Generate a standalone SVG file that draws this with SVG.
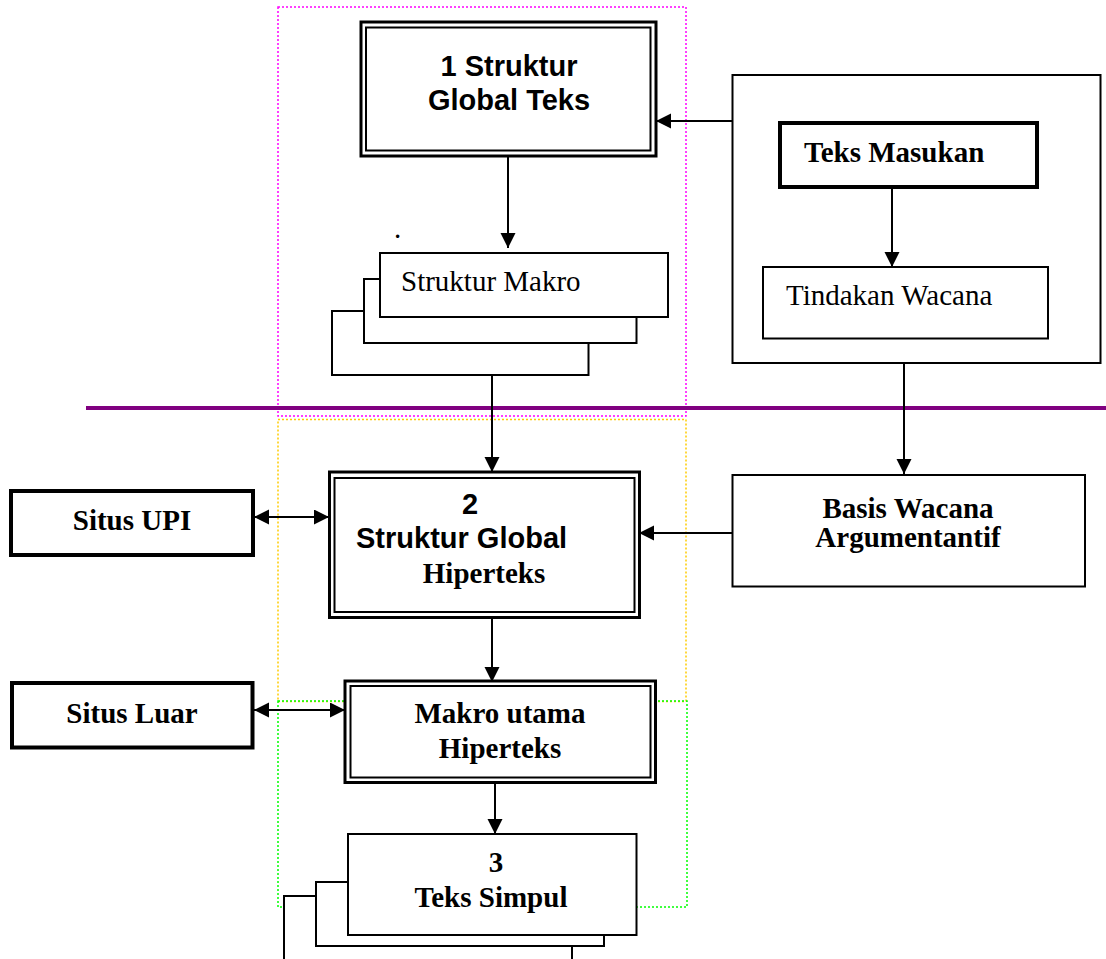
<svg xmlns="http://www.w3.org/2000/svg" width="1106" height="959" viewBox="0 0 1106 959">
<style>
.bx{fill:#fff;stroke:#000;stroke-width:2}
.thk{fill:#fff;stroke:#000;stroke-width:4}
.dbo{fill:#fff;stroke:#000;stroke-width:3}
.dbi{fill:none;stroke:#000;stroke-width:2}
.con{stroke:#000;stroke-width:2;fill:none}
.dot{fill:none;stroke-width:1.5;stroke-dasharray:2 2}
.ab{font-family:"Liberation Sans",Arial,sans-serif;font-weight:bold;font-size:29px;fill:#000}
.tb{font-family:"Liberation Serif","Times New Roman",serif;font-weight:bold;font-size:29px;fill:#000}
.tr{font-family:"Liberation Serif","Times New Roman",serif;font-size:29px;fill:#000}
</style>
<defs>
<marker id="ah" markerUnits="userSpaceOnUse" markerWidth="16" markerHeight="16" viewBox="0 0 16 16" refX="15" refY="7.5" orient="auto-start-reverse">
<path d="M0,0 L15,7.5 L0,15 Z" fill="#000"/>
</marker>
</defs>
<rect width="1106" height="959" fill="#fff"/>

<g id="regions">
<rect class="dot" x="278" y="7" width="408" height="409" stroke="#FF00FF"/>
<rect class="dot" x="278" y="419.5" width="408" height="282" stroke="#FFCC00"/>
<rect class="dot" x="278" y="701" width="409" height="206" stroke="#00FF00"/>
<line x1="86" y1="408" x2="1106" y2="408" stroke="#800080" stroke-width="4"/>
</g>

<g id="node-struktur-global-teks">
<rect class="dbo" x="361" y="22" width="295" height="134"/>
<rect class="dbi" x="366" y="27.5" width="284.5" height="123"/>
<text class="ab" x="509" y="76" text-anchor="middle">1 Struktur</text>
<text class="ab" x="509" y="110" text-anchor="middle">Global Teks</text>
</g>

<g id="node-struktur-makro">
<rect class="bx" x="332" y="311" width="256.5" height="64"/>
<rect class="bx" x="364" y="279" width="272.5" height="64"/>
<rect class="bx" x="380" y="253" width="288" height="64"/>
<text class="tr" x="401" y="291">Struktur Makro</text>
<text class="tr" x="394" y="238" font-size="16">.</text>
</g>

<g id="node-input-group">
<rect class="bx" x="732.5" y="75" width="368" height="288"/>
</g>

<g id="node-teks-masukan">
<rect class="thk" x="780" y="123" width="257" height="64"/>
<text class="tb" x="804" y="161.5">Teks Masukan</text>
</g>

<g id="node-tindakan-wacana">
<rect class="bx" x="763" y="267" width="285" height="71.5"/>
<text class="tr" x="786" y="305">Tindakan Wacana</text>
</g>

<g id="node-basis-wacana">
<rect class="bx" x="732.5" y="475" width="352.5" height="111.5"/>
<text class="tb" x="908" y="518" text-anchor="middle">Basis Wacana</text>
<text class="tb" x="908" y="547" text-anchor="middle">Argumentantif</text>
</g>

<g id="node-situs-upi">
<rect class="thk" x="11" y="491" width="242" height="64"/>
<text class="tb" x="132" y="530" text-anchor="middle">Situs UPI</text>
</g>

<g id="node-struktur-global-hiperteks">
<rect class="dbo" x="329.5" y="472" width="310" height="145.5"/>
<rect class="dbi" x="334.5" y="478" width="300" height="134"/>
<text class="ab" x="470" y="514" text-anchor="middle">2</text>
<text class="ab" x="356" y="548">Struktur Global</text>
<text class="tb" x="484" y="583" text-anchor="middle">Hiperteks</text>
</g>

<g id="node-situs-luar">
<rect class="thk" x="12" y="683" width="240.5" height="64.5"/>
<text class="tb" x="132" y="723" text-anchor="middle">Situs Luar</text>
</g>

<g id="node-makro-utama">
<rect class="dbo" x="345" y="681" width="310.5" height="101.5"/>
<rect class="dbi" x="350.5" y="686" width="300" height="91.5"/>
<text class="tb" x="500" y="723" text-anchor="middle">Makro utama</text>
<text class="tb" x="500" y="758" text-anchor="middle">Hiperteks</text>
</g>

<g id="node-teks-simpul">
<rect class="bx" x="284" y="896" width="288" height="80"/>
<rect class="bx" x="316" y="882" width="288" height="64"/>
<rect class="bx" x="348" y="834" width="288.5" height="101"/>
<text class="tb" x="496" y="872" text-anchor="middle">3</text>
<text class="tb" x="491" y="907" text-anchor="middle">Teks Simpul</text>
</g>

<g id="connectors">
<line class="con" x1="732" y1="121" x2="656" y2="121" marker-end="url(#ah)"/>
<line class="con" x1="508" y1="156" x2="508" y2="248" marker-end="url(#ah)"/>
<line class="con" x1="892" y1="187" x2="892" y2="267" marker-end="url(#ah)"/>
<line class="con" x1="904" y1="363" x2="904" y2="474" marker-end="url(#ah)"/>
<line class="con" x1="492" y1="375" x2="492" y2="472" marker-end="url(#ah)"/>
<line class="con" x1="732" y1="533" x2="639" y2="533" marker-end="url(#ah)"/>
<line class="con" x1="254" y1="517" x2="329" y2="517" marker-start="url(#ah)" marker-end="url(#ah)"/>
<line class="con" x1="492" y1="617" x2="492" y2="682" marker-end="url(#ah)"/>
<line class="con" x1="254" y1="710" x2="345" y2="710" marker-start="url(#ah)" marker-end="url(#ah)"/>
<line class="con" x1="495" y1="783" x2="495" y2="834" marker-end="url(#ah)"/>
</g>
</svg>
